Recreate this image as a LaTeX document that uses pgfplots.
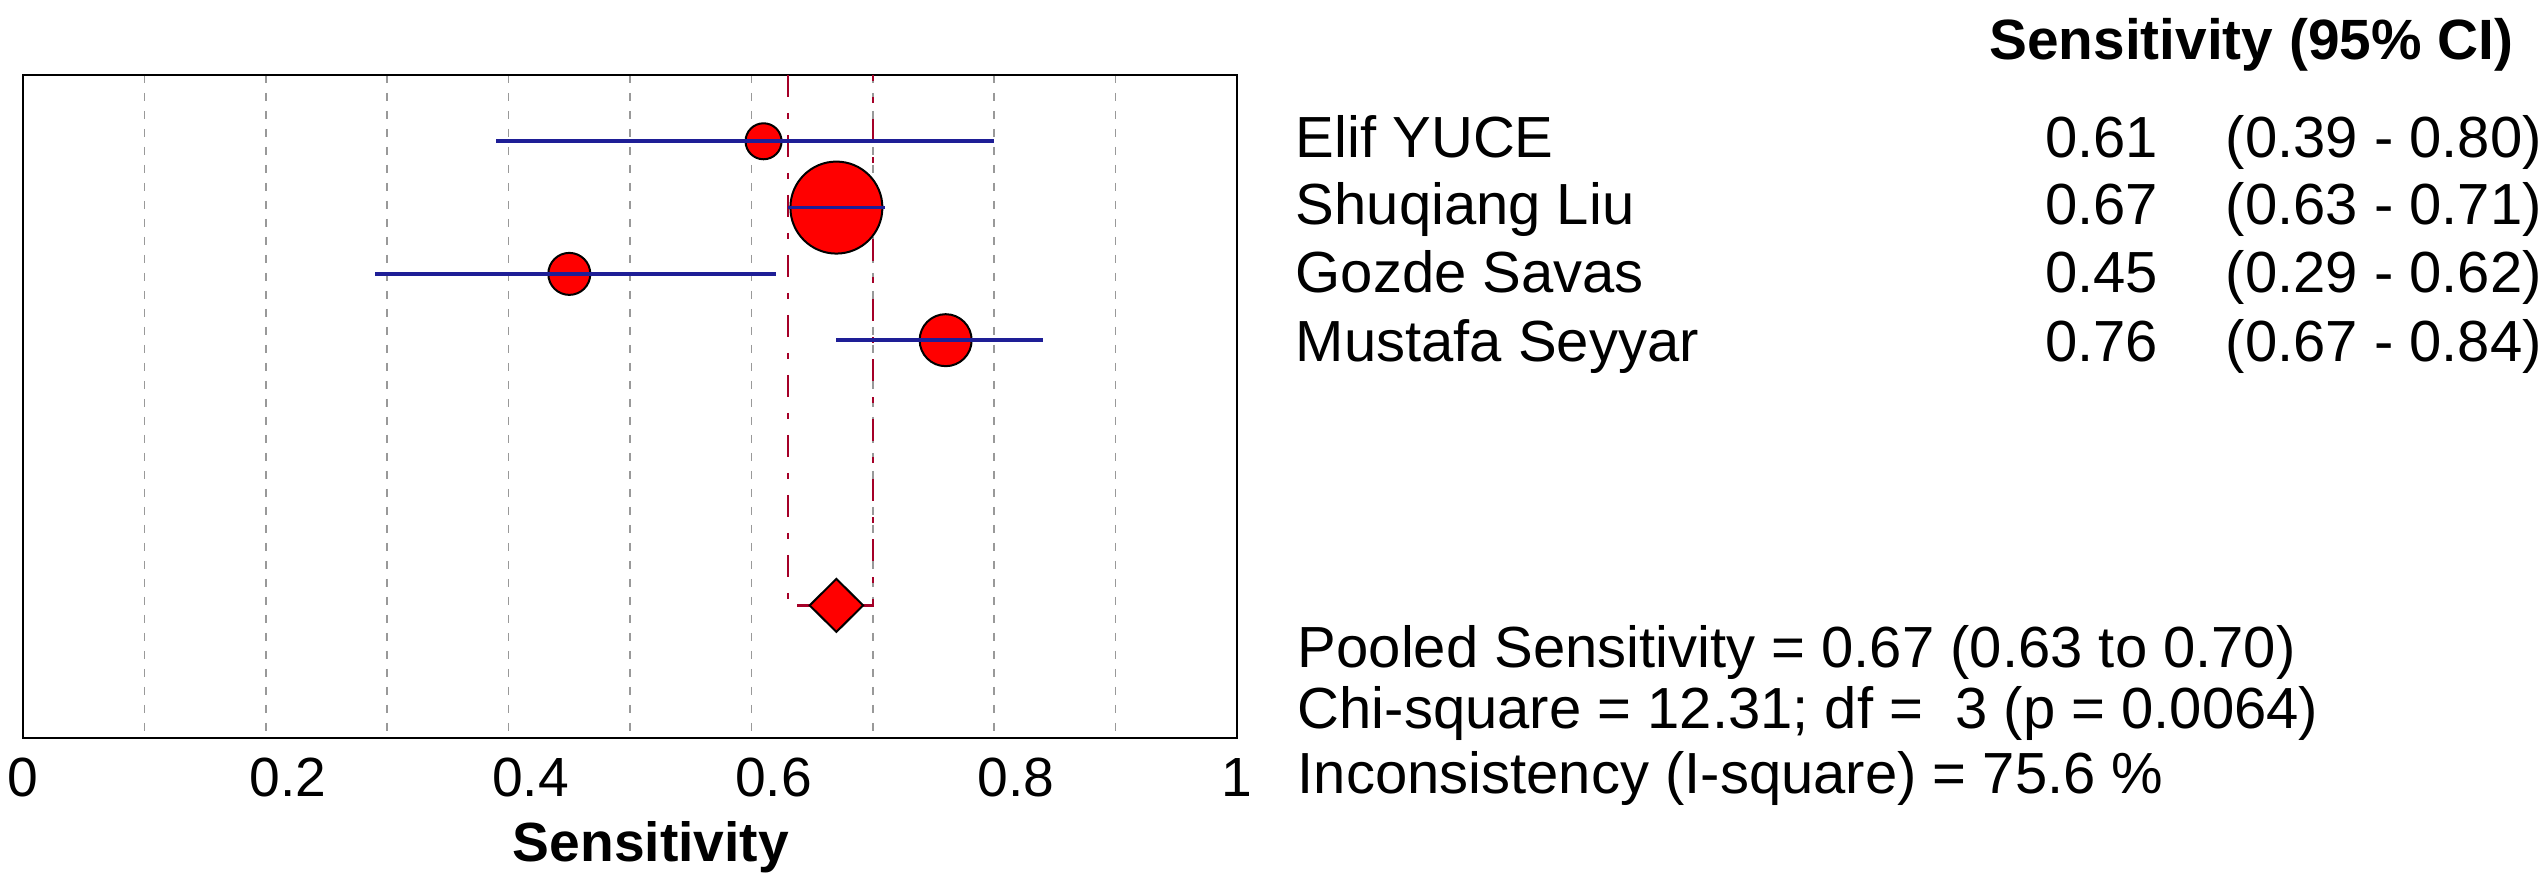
\documentclass[border=0pt]{standalone}
\usepackage{pgfplots}
\pgfplotsset{compat=1.18}
\usepackage{fontspec}
\setmainfont{Liberation Sans}
\definecolor{cibl}{RGB}{30,30,150}
\definecolor{pooledred}{RGB}{165,0,40}
\begin{document}
\begin{tikzpicture}[font=\fontsize{13.8}{16}\selectfont]
\path (-5.75pt,-36.5pt) rectangle (630pt,184.5pt);
\begin{axis}[
  set layers,
  at={(0pt,0pt)}, anchor=south west,
  scale only axis, width=303.5pt, height=165.75pt,
  xmin=0, xmax=1, ymin=0, ymax=10, y dir=reverse,
  axis line style={line width=0.7pt},
  ytick=\empty,
  xtick={0.1,0.2,0.3,0.4,0.5,0.6,0.7,0.8,0.9},
  xticklabels={,\hspace*{11pt}0.2,,\hspace*{11pt}0.4,,\hspace*{11pt}0.6,,\hspace*{11pt}0.8,},
  extra x ticks={0,1}, extra x tick labels={0,1},
  extra x tick style={grid=none},
  major tick length=0pt,
  xmajorgrids,
  grid style={black!40, dash pattern=on 2pt off 2.5pt, line width=0.4pt},
  xticklabel style={anchor=base, yshift=-14.75pt, inner sep=0pt},
  /pgf/number format/assume math mode=true,
  xlabel={\textbf{Sensitivity}},
  xlabel style={at={(axis description cs:0.5,0)}, anchor=base, yshift=-31pt, xshift=5.25pt, inner sep=0pt},
  clip=false,
]
% pooled CI bracket
\addplot[pooledred, line width=0.6pt, dash pattern=on 5.5pt off 4pt on 1.5pt off 4pt]
  coordinates {(0.63,0) (0.63,8) (0.70,8) (0.70,0)};
% study estimates (marker size ~ weight)
\addplot[only marks, mark=*, mark size=4.5pt, mark options={fill=red, draw=black, line width=0.5pt}] coordinates {(0.61,1)};
\addplot[only marks, mark=*, mark size=11.5pt, mark options={fill=red, draw=black, line width=0.5pt}] coordinates {(0.67,2)};
\addplot[only marks, mark=*, mark size=5.25pt, mark options={fill=red, draw=black, line width=0.5pt}] coordinates {(0.45,3)};
\addplot[only marks, mark=*, mark size=6.5pt, mark options={fill=red, draw=black, line width=0.5pt}] coordinates {(0.76,4)};
% confidence intervals (above the markers)
\addplot[cibl, line width=0.9pt, on layer=axis foreground] coordinates {(0.39,1) (0.80,1)};
\addplot[cibl, line width=0.9pt, on layer=axis foreground] coordinates {(0.63,2) (0.71,2)};
\addplot[cibl, line width=0.9pt, on layer=axis foreground] coordinates {(0.29,3) (0.62,3)};
\addplot[cibl, line width=0.9pt, on layer=axis foreground] coordinates {(0.67,4) (0.84,4)};
% pooled diamond
\addplot[fill=red, draw=black, line width=0.5pt]
  coordinates {(0.648,8) (0.67,7.6) (0.692,8) (0.67,8.4)} -- cycle;
\end{axis}
\node[anchor=base east, inner sep=0pt, font=\fontsize{14.2}{16}\selectfont\bfseries] at (622.75pt,169.5pt) {Sensitivity (95\% CI)};
\begin{scope}[every node/.style={inner sep=0pt, font=\fontsize{14.5}{17}\selectfont}]
\node[anchor=base west] at (318pt,145pt) {Elif YUCE};
\node[anchor=base west] at (318pt,128.25pt) {Shuqiang Liu};
\node[anchor=base west] at (318pt,111.25pt) {Gozde Savas};
\node[anchor=base west] at (318pt,94pt) {Mustafa Seyyar};
\node[anchor=base east] at (534pt,145pt) {0.61};
\node[anchor=base east] at (534pt,128.25pt) {0.67};
\node[anchor=base east] at (534pt,111.25pt) {0.45};
\node[anchor=base east] at (534pt,94pt) {0.76};
\node[anchor=base west] at (550.5pt,145pt) {(0.39 - 0.80)};
\node[anchor=base west] at (550.5pt,128.25pt) {(0.63 - 0.71)};
\node[anchor=base west] at (550.5pt,111.25pt) {(0.29 - 0.62)};
\node[anchor=base west] at (550.5pt,94pt) {(0.67 - 0.84)};
\node[anchor=base west] at (318.5pt,17.5pt) {Pooled Sensitivity = 0.67 (0.63 to 0.70)};
\node[anchor=base west] at (318.5pt,2.25pt) {Chi-square = 12.31; df = \ 3 (p = 0.0064)};
\node[anchor=base west] at (318.5pt,-14pt) {Inconsistency (I-square) = 75.6 \%};
\end{scope}
\end{tikzpicture}
\end{document}
